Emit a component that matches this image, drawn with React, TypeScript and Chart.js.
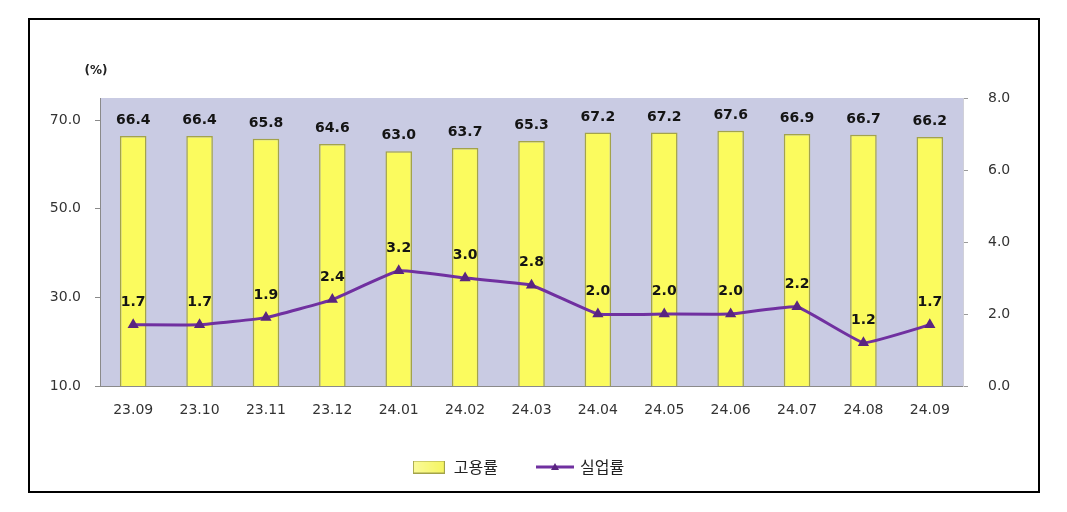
import { useEffect, useRef } from "react";
import { Chart, registerables } from "chart.js";

Chart.register(...registerables);

const categories = ["23.09", "23.10", "23.11", "23.12", "24.01", "24.02", "24.03", "24.04", "24.05", "24.06", "24.07", "24.08", "24.09"];
const employmentRate = [66.4, 66.4, 65.8, 64.6, 63.0, 63.7, 65.3, 67.2, 67.2, 67.6, 66.9, 66.7, 66.2];
const unemploymentRate = [1.7, 1.7, 1.9, 2.4, 3.2, 3.0, 2.8, 2.0, 2.0, 2.0, 2.2, 1.2, 1.7];
const leftTickValues = [10, 30, 50, 70];
const rightTickValues = [0, 2, 4, 6, 8];
const seriesNames = ["고용률", "실업률"];
const unitLabel = "(%)";

const FONT = "'DejaVu Sans', 'Noto Sans CJK KR', sans-serif";
const KFONT = "'Noto Sans CJK KR', 'Noto Sans', sans-serif";
const PURPLE = "#7030a0";
const YELLOW = "#fbfb5e";
const OLIVE = "#a3a34a";

function makeBarIcon() {
  const c = document.createElement("canvas");
  c.width = 32;
  c.height = 13;
  const ctx = c.getContext("2d")!;
  const g = ctx.createLinearGradient(0, 0, 32, 0);
  g.addColorStop(0, "#fbfb9a");
  g.addColorStop(1, "#f5f560");
  ctx.fillStyle = g;
  ctx.fillRect(1, 1, 30, 11);
  ctx.strokeStyle = OLIVE;
  ctx.lineWidth = 1;
  ctx.strokeRect(0.5, 0.5, 31, 12);
  return c;
}

function makeLineIcon() {
  const c = document.createElement("canvas");
  c.width = 38;
  c.height = 12;
  const ctx = c.getContext("2d")!;
  ctx.strokeStyle = PURPLE;
  ctx.lineWidth = 3;
  ctx.beginPath();
  ctx.moveTo(0, 6);
  ctx.lineTo(38, 6);
  ctx.stroke();
  ctx.fillStyle = "#5a2580";
  ctx.beginPath();
  ctx.moveTo(19, 2);
  ctx.lineTo(23, 9);
  ctx.lineTo(15, 9);
  ctx.closePath();
  ctx.fill();
  return c;
}

const plotBackground = {
  id: "plotBackground",
  beforeDraw(chart: any) {
    const { ctx, chartArea } = chart;
    ctx.save();
    ctx.fillStyle = "#c9cbe3";
    ctx.fillRect(chartArea.left, chartArea.top, chartArea.right - chartArea.left, chartArea.bottom - chartArea.top);
    ctx.restore();
  },
};

const legendShift = {
  id: "legendShift",
  afterLayout(chart: any) {
    if (chart.legend) {
      chart.legend.right -= 32;
    }
  },
};

const valueLabels = {
  id: "valueLabels",
  afterDatasetsDraw(chart: any) {
    const { ctx } = chart;
    ctx.save();
    ctx.font = `bold 14px ${FONT}`;
    ctx.fillStyle = "#141414";
    ctx.textAlign = "center";
    ctx.textBaseline = "alphabetic";
    chart.data.datasets.forEach((ds: any, di: number) => {
      const meta = chart.getDatasetMeta(di);
      meta.data.forEach((el: any, i: number) => {
        const v = ds.data[i] as number;
        const off = di === 0 ? 12 : 19;
        ctx.fillText(v.toFixed(1), el.x, el.y - off);
      });
    });
    ctx.restore();
  },
};

const unitTitle = {
  id: "unitTitle",
  afterDraw(chart: any) {
    const { ctx, chartArea } = chart;
    ctx.save();
    ctx.font = `bold 12px ${FONT}`;
    ctx.fillStyle = "#222";
    ctx.textAlign = "center";
    ctx.textBaseline = "middle";
    ctx.fillText(unitLabel, chartArea.left - 4, chartArea.top - 27);
    ctx.restore();
  },
};

export default function App() {
  const ref = useRef<HTMLCanvasElement | null>(null);

  useEffect(() => {
    if (!ref.current) return;
    const barIcon = makeBarIcon();
    const lineIcon = makeLineIcon();
    const chart = new Chart(ref.current, {
      data: {
        labels: categories,
        datasets: [
          {
            type: "bar",
            label: seriesNames[0],
            data: employmentRate,
            yAxisID: "y",
            backgroundColor: YELLOW,
            borderColor: OLIVE,
            borderWidth: 1.5,
            barPercentage: 0.8,
            categoryPercentage: 0.5,
            order: 2,
          },
          {
            type: "line",
            label: seriesNames[1],
            data: unemploymentRate,
            yAxisID: "y1",
            borderColor: PURPLE,
            backgroundColor: "#5a2580",
            borderWidth: 3,
            tension: 0.1,
            pointStyle: "triangle",
            pointRadius: 3.5,
            pointBackgroundColor: "#5a2580",
            pointBorderColor: "#5a2580",
            order: 1,
          },
        ],
      } as any,
      options: {
        animation: false,
        responsive: true,
        maintainAspectRatio: false,
        layout: { padding: { top: 78, left: 0, right: 0, bottom: 6 } },
        plugins: {
          tooltip: { enabled: false },
          legend: {
            position: "bottom",
            labels: {
              usePointStyle: true,
              pointStyleWidth: 34,
              padding: 40,
              color: "#222",
              font: { family: KFONT, size: 16 },
              generateLabels: () => [
                { text: seriesNames[0], pointStyle: barIcon, fillStyle: YELLOW, strokeStyle: OLIVE, lineWidth: 0, hidden: false, datasetIndex: 0, fontColor: "#222" },
                { text: seriesNames[1], pointStyle: lineIcon, fillStyle: PURPLE, strokeStyle: PURPLE, lineWidth: 0, hidden: false, datasetIndex: 1, fontColor: "#222" },
              ] as any,
            },
          },
        },
        scales: {
          x: {
            grid: { display: false, drawTicks: false },
            border: { display: true, color: "#8a8a8a", width: 1 },
            ticks: { color: "#333", font: { family: FONT, size: 14 }, padding: 16 },
            afterFit: (s: any) => { s.height = 33; },
          },
          y: {
            position: "left",
            min: 10,
            max: 75,
            afterBuildTicks: (axis: any) => { axis.ticks = leftTickValues.map((v) => ({ value: v })); },
            grid: { drawOnChartArea: false, drawTicks: true, tickLength: 5, color: "#8a8a8a" },
            border: { display: true, color: "#8a8a8a", width: 1 },
            ticks: { color: "#333", font: { family: FONT, size: 14 }, padding: 14, callback: (v: any) => Number(v).toFixed(1) },
            afterFit: (s: any) => { s.width = 70; },
          },
          y1: {
            position: "right",
            min: 0,
            max: 8,
            afterBuildTicks: (axis: any) => { axis.ticks = rightTickValues.map((v) => ({ value: v })); },
            grid: { drawOnChartArea: false, drawTicks: true, tickLength: 5, color: "#9a9a9a" },
            border: { display: true, color: "#d0d0d8", width: 1 },
            ticks: { color: "#333", font: { family: FONT, size: 14 }, padding: 20, callback: (v: any) => Number(v).toFixed(1) },
            afterFit: (s: any) => { s.width = 75; },
          },
        },
      },
      plugins: [plotBackground, legendShift, valueLabels, unitTitle],
    });
    return () => chart.destroy();
  }, []);

  return (
    <div
      style={{
        position: "absolute",
        left: 28,
        top: 18,
        width: 1012,
        height: 475,
        boxSizing: "border-box",
        border: "2px solid #000",
        background: "#fff",
      }}
    >
      <div style={{ position: "relative", width: 1008, height: 471 }}>
        <canvas ref={ref} />
      </div>
    </div>
  );
}
